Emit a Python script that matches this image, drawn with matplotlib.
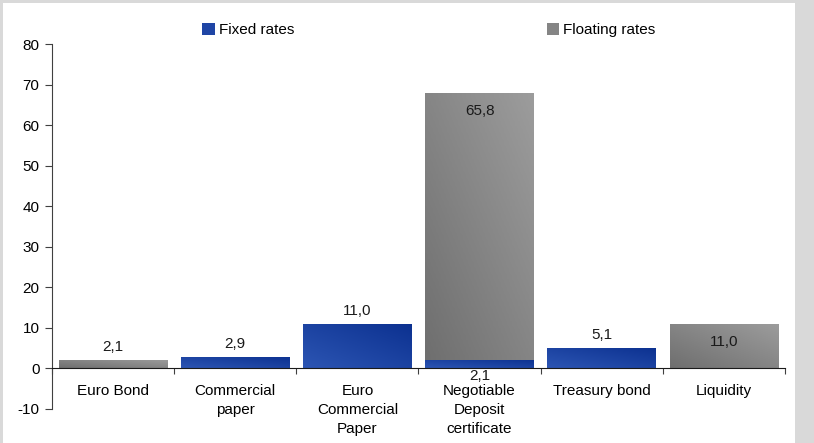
import numpy as np
import matplotlib.pyplot as plt
from matplotlib.colors import LinearSegmentedColormap
from matplotlib.patches import Rectangle

plt.rcParams['font.family'] = ['Liberation Sans', 'DejaVu Sans']
plt.rcParams['axes.unicode_minus'] = False

categories = ['Euro Bond', 'Commercial\npaper', 'Euro\nCommercial\nPaper',
              'Negotiable\nDeposit\ncertificate', 'Treasury bond', 'Liquidity']
fixed_rates = [0.0, 2.9, 11.0, 2.1, 5.1, 0.0]
floating_rates = [2.1, 0.0, 0.0, 65.8, 0.0, 11.0]

blue_cmap = LinearSegmentedColormap.from_list('blue', ['#2c55b3', '#0c3190'])
grey_cmap = LinearSegmentedColormap.from_list('grey', ['#6f6f6f', '#9c9c9c'])

fig = plt.figure(figsize=(8.14, 4.43), dpi=100, facecolor='#d9d9d9')
fig.patches.append(Rectangle((3 / 814, 0), 792 / 814, 440 / 443,
                             transform=fig.transFigure, facecolor='white',
                             edgecolor='none', zorder=-5))
ax = fig.add_axes([52 / 814, 1 - 409 / 443, 733 / 814, 365 / 443])
ax.set_facecolor('none')
ax.set_zorder(2)

x = np.arange(len(categories))
width = 0.89


def gradient_fill(bars, cmap):
    # fill each bar with a diagonal gradient clipped to the bar shape
    grad = np.add.outer(np.linspace(0, 1, 40), np.linspace(0, 1, 40)) / 2
    for b in bars:
        if b.get_height() == 0:
            continue
        x0, y0 = b.get_x(), b.get_y()
        im = ax.imshow(grad, cmap=cmap, aspect='auto', origin='lower',
                       extent=[x0, x0 + b.get_width(), y0, y0 + b.get_height()],
                       zorder=2)
        im.set_clip_path(b)
        b.set_facecolor('none')


fixed_bars = ax.bar(x, fixed_rates, width, color='#1f45a5', zorder=2, label='Fixed rates')
float_bars = ax.bar(x, floating_rates, width, bottom=fixed_rates, color='#858585',
                    zorder=2, label='Floating rates')
gradient_fill(fixed_bars, blue_cmap)
gradient_fill(float_bars, grey_cmap)

# value labels
for i in range(len(categories)):
    f, fl = fixed_rates[i], floating_rates[i]
    if f > 0:
        ypos = f + 3.2 if fl == 0 else -1.8
        ax.text(x[i], ypos, f'{f:.1f}'.replace('.', ','), ha='center', va='center',
                fontsize=11, color='#1a1a1a', zorder=4)
    if fl > 0:
        top = f + fl
        ypos = top - 4.5 if fl > 5 else top + 3.2
        ax.text(x[i], ypos, f'{fl:.1f}'.replace('.', ','), ha='center', va='center',
                fontsize=11, color='#1a1a1a', zorder=4)

ax.set_xlim(-0.5, len(categories) - 0.5)
ax.set_ylim(-10, 80)
ax.set_yticks(range(-10, 81, 10))
ax.spines['top'].set_visible(False)
ax.spines['right'].set_visible(False)
ax.spines['bottom'].set_position(('data', 0))
ax.spines['left'].set_color('#404040')
ax.spines['bottom'].set_color('#1a1a1a')
ax.tick_params(axis='y', labelsize=11, length=5, color='#404040', pad=4)

ax.set_xticks(np.arange(len(categories) + 1) - 0.5)
ax.set_xticklabels([])
ax.tick_params(axis='x', which='major', length=4, direction='out', color='#404040')
ax.set_xticks(x, minor=True)
ax.set_xticklabels(categories, minor=True, fontsize=11, linespacing=1.45)
ax.tick_params(axis='x', which='minor', length=0, pad=11)

handles, labels = ax.get_legend_handles_labels()
leg = fig.legend(handles, labels, loc='center', bbox_to_anchor=(0.527, 0.932), ncol=2,
                 frameon=False, fontsize=11, handlelength=0.8, handleheight=0.8,
                 handletextpad=0.3, columnspacing=16.5)
leg.legend_handles[0].set_facecolor('#1f45a5')
leg.legend_handles[1].set_facecolor('#858585')

fig.savefig('out.png', dpi=100)
